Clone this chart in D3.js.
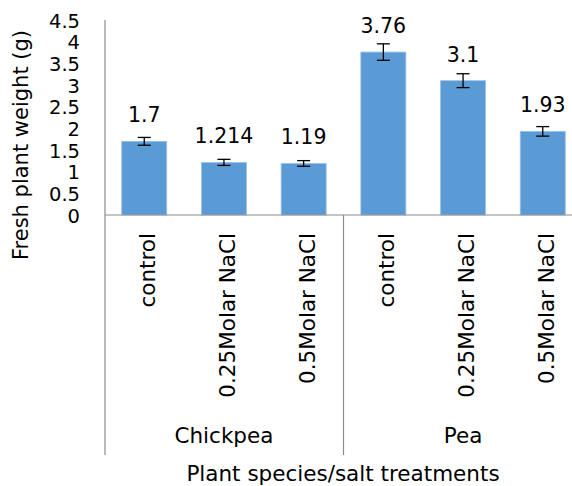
<!DOCTYPE html>
<html><head><meta charset="utf-8">
<script src="https://cdn.jsdelivr.net/npm/d3@7"></script>
<style>
html,body{margin:0;padding:0;background:#fff;}
svg{display:block;font-family:"DejaVu Sans",sans-serif;}
</style></head>
<body>
<svg id="chart" width="572" height="486"></svg>
<script>
const groups = ["Chickpea", "Pea"];
const treatments = ["control", "0.25Molar NaCl", "0.5Molar NaCl"];
const values = [1.7, 1.214, 1.19, 3.76, 3.1, 1.93];
const errors = [0.09, 0.07, 0.065, 0.19, 0.16, 0.11];
const valueLabels = ["1.7", "1.214", "1.19", "3.76", "3.1", "1.93"];
const yTicks = [0, 0.5, 1, 1.5, 2, 2.5, 3, 3.5, 4, 4.5];
const yTitle = "Fresh plant weight (g)";
const xTitle = "Plant species/salt treatments";

const rows = [];
groups.forEach((g, gi) => treatments.forEach((t, ti) => {
  const i = gi * treatments.length + ti;
  rows.push({id: i, group: g, treatment: t, value: values[i], err: errors[i], label: valueLabels[i]});
}));

const svg = d3.select("#chart");
const axisColor = "#8c8c8c";
const y = d3.scaleLinear().domain([0, 4.5]).range([215, 20]);
const x = d3.scaleBand().domain(rows.map(d => d.id)).range([104.4, 582.6])
  .paddingInner(0.435).paddingOuter(0.2175);
const bottom = 455;

// bars
svg.append("g").selectAll("rect").data(rows).join("rect")
  .attr("x", d => x(d.id)).attr("width", x.bandwidth())
  .attr("y", d => y(d.value)).attr("height", d => y(0) - y(d.value))
  .attr("fill", "#5b9bd5").attr("stroke", "#9cc1e6").attr("stroke-width", 0.8);

// error bars
const eb = svg.append("g").attr("stroke", "#000").attr("stroke-width", 1.3);
rows.forEach(d => {
  const cx = x(d.id) + x.bandwidth() / 2;
  eb.append("line").attr("x1", cx).attr("x2", cx).attr("y1", y(d.value + d.err)).attr("y2", y(d.value - d.err));
  eb.append("line").attr("x1", cx - 6.5).attr("x2", cx + 6.5).attr("y1", y(d.value + d.err)).attr("y2", y(d.value + d.err));
  eb.append("line").attr("x1", cx - 6.5).attr("x2", cx + 6.5).attr("y1", y(d.value - d.err)).attr("y2", y(d.value - d.err));
});

// value labels
svg.append("g").selectAll("text").data(rows).join("text")
  .attr("x", d => x(d.id) + x.bandwidth() / 2).attr("y", d => y(d.value) - 19)
  .attr("text-anchor", "middle").attr("font-size", 20.5).attr("fill", "#000")
  .text(d => d.label);

// y axis
const yAxis = d3.axisLeft(y).tickValues(yTicks).tickSize(0).tickPadding(0).tickFormat(d3.format("~g"));
const ya = svg.append("g").attr("transform", "translate(105,0)").call(yAxis);
ya.select(".domain").remove();
ya.selectAll("text").attr("x", -25).attr("dy", "0.36em").attr("font-size", 19.5)
  .attr("font-family", "DejaVu Sans, sans-serif").attr("fill", "#000");

// axis lines
const lines = svg.append("g").attr("stroke", axisColor).attr("stroke-width", 1.2);
lines.append("line").attr("x1", 105).attr("x2", 105).attr("y1", y(4.5)).attr("y2", bottom);
lines.append("line").attr("x1", 105).attr("x2", 583).attr("y1", y(0)).attr("y2", y(0));
const groupEdges = [x.range()[0], x.range()[0] + x.step() * 3, x.range()[1]];
groupEdges.slice(1).forEach(e => lines.append("line").attr("x1", e).attr("x2", e).attr("y1", y(0)).attr("y2", bottom));

// category labels
svg.append("g").selectAll("text").data(rows).join("text")
  .attr("transform", d => `translate(${x(d.id) + x.bandwidth() / 2 + 11},233) rotate(-90)`)
  .attr("text-anchor", "end").attr("font-size", 21.5).attr("fill", "#000")
  .text(d => d.treatment);

// group labels
svg.append("g").selectAll("text").data(groups).join("text")
  .attr("x", (d, i) => (groupEdges[i] + groupEdges[i + 1]) / 2).attr("y", 443)
  .attr("text-anchor", "middle").attr("font-size", 21.5).attr("fill", "#000")
  .text(d => d);

// titles
svg.append("text").attr("x", 343).attr("y", 481).attr("text-anchor", "middle")
  .attr("font-size", 21.5).attr("fill", "#000").text(xTitle);
svg.append("text").attr("transform", "translate(28,145) rotate(-90)").attr("text-anchor", "middle")
  .attr("font-size", 21).attr("fill", "#000").text(yTitle);
</script>
</body></html>
